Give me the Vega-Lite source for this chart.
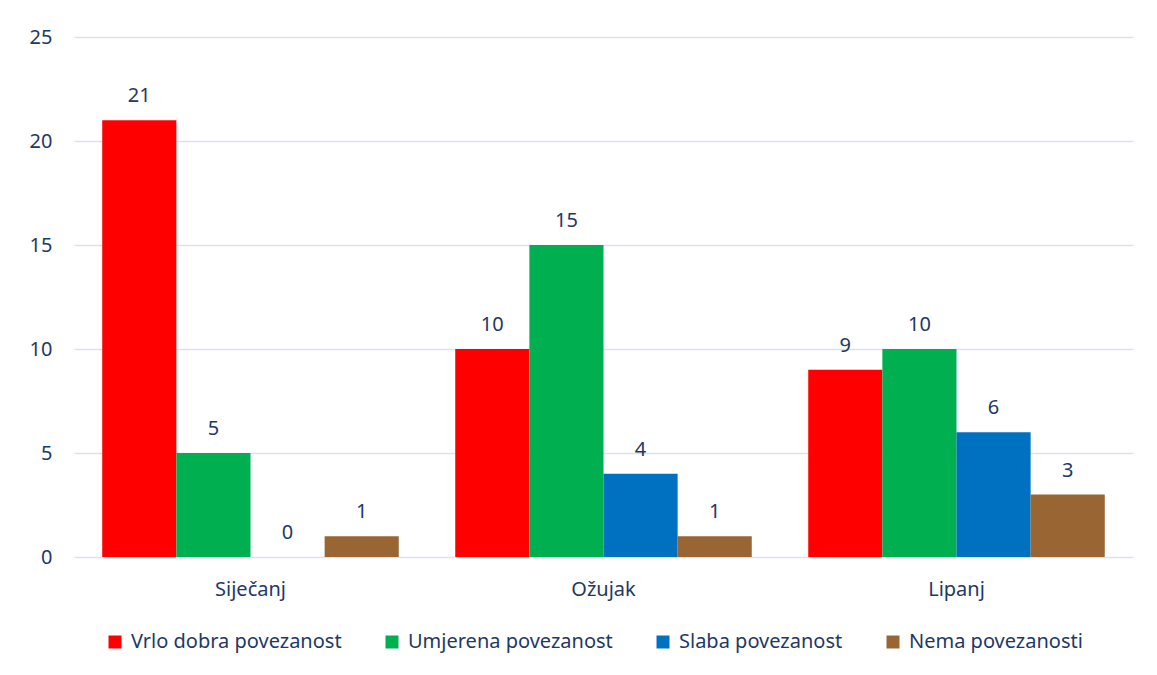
{
  "$schema": "https://vega.github.io/schema/vega-lite/v6.json",
  "autosize": {"type": "none"},
  "width": 1059,
  "height": 520,
  "padding": {"left": 74, "top": 37, "right": 24, "bottom": 118},
  "background": "white",
  "config": {
    "view": {"stroke": null},
    "font": "Noto Sans",
    "axis": {"labelFont": "Noto Sans", "labelFontSize": 20, "labelColor": "#1F3864"},
    "legend": {"labelFont": "Noto Sans", "labelFontSize": 20, "labelColor": "#1F3864", "labelLimit": 0, "padding": 0}
  },
  "data": {
    "values": [
      {"mjesec": "Siječanj", "kategorija": "Vrlo dobra povezanost", "broj": 21},
      {"mjesec": "Siječanj", "kategorija": "Umjerena povezanost", "broj": 5},
      {"mjesec": "Siječanj", "kategorija": "Slaba povezanost", "broj": 0},
      {"mjesec": "Siječanj", "kategorija": "Nema povezanosti", "broj": 1},
      {"mjesec": "Ožujak", "kategorija": "Vrlo dobra povezanost", "broj": 10},
      {"mjesec": "Ožujak", "kategorija": "Umjerena povezanost", "broj": 15},
      {"mjesec": "Ožujak", "kategorija": "Slaba povezanost", "broj": 4},
      {"mjesec": "Ožujak", "kategorija": "Nema povezanosti", "broj": 1},
      {"mjesec": "Lipanj", "kategorija": "Vrlo dobra povezanost", "broj": 9},
      {"mjesec": "Lipanj", "kategorija": "Umjerena povezanost", "broj": 10},
      {"mjesec": "Lipanj", "kategorija": "Slaba povezanost", "broj": 6},
      {"mjesec": "Lipanj", "kategorija": "Nema povezanosti", "broj": 3}
    ]
  },
  "encoding": {
    "x": {
      "field": "mjesec", "type": "nominal", "sort": ["Siječanj", "Ožujak", "Lipanj"],
      "scale": {"paddingInner": 0.16, "paddingOuter": 0.08},
      "axis": {"title": null, "labelAngle": 0, "domain": false, "ticks": false, "labelPadding": 22}
    },
    "xOffset": {"field": "kategorija", "type": "nominal", "sort": ["Vrlo dobra povezanost", "Umjerena povezanost", "Slaba povezanost", "Nema povezanosti"], "scale": {"paddingInner": 0, "paddingOuter": 0}},
    "y": {
      "field": "broj", "type": "quantitative",
      "scale": {"domain": [0, 25]},
      "axis": {"title": null, "values": [0, 5, 10, 15, 20, 25], "domain": false, "ticks": false, "labelPadding": 22, "gridColor": "#D9E2F3", "gridWidth": 1.5}
    }
  },
  "layer": [
    {
      "mark": {"type": "bar"},
      "encoding": {
        "color": {
          "field": "kategorija", "type": "nominal",
          "sort": ["Vrlo dobra povezanost", "Umjerena povezanost", "Slaba povezanost", "Nema povezanosti"],
          "scale": {"domain": ["Vrlo dobra povezanost", "Umjerena povezanost", "Slaba povezanost", "Nema povezanosti"], "range": ["#FF0000", "#00B050", "#0070C0", "#996633"]},
          "legend": {"title": null, "orient": "none", "legendX": 31, "legendY": 595, "direction": "horizontal", "symbolType": "square", "symbolSize": 169, "symbolStrokeWidth": 0, "columnPadding": 40, "labelOffset": 6}
        }
      }
    },
    {
      "mark": {"type": "text", "baseline": "bottom", "dy": -14, "fontSize": 20, "color": "#1F3864", "font": "Noto Sans"},
      "encoding": {"text": {"field": "broj", "type": "quantitative"}}
    }
  ]
}
